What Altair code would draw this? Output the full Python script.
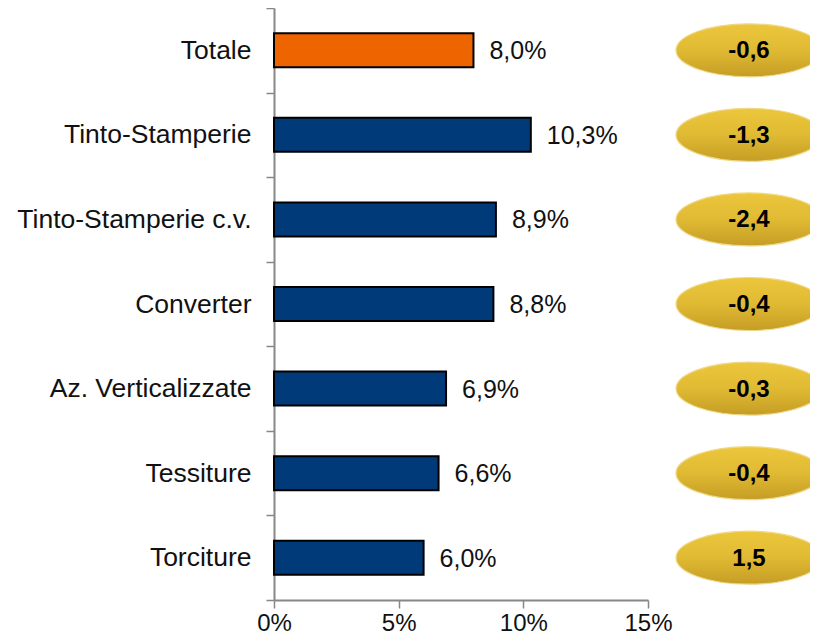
import altair as alt
import pandas as pd

# ---- data ----
categories = ["Totale", "Tinto-Stamperie", "Tinto-Stamperie c.v.", "Converter",
              "Az. Verticalizzate", "Tessiture", "Torciture"]
shares = [8.0, 10.3, 8.9, 8.8, 6.9, 6.6, 6.0]          # % values (bars)
changes = [-0.6, -1.3, -2.4, -0.4, -0.3, -0.4, 1.5]     # values in the gold ellipses
x_ticks = [0, 5, 10, 15]
highlight = "Totale"

df = pd.DataFrame({"cat": categories, "share": shares, "change": changes})
df["share_label"] = [f"{v:.1f}".replace(".", ",") + "%" for v in shares]
df["change_label"] = [f"{v:.1f}".replace(".", ",") for v in changes]

AXIS_GRAY = "#878787"
FONT = "Liberation Sans"

y = alt.Y(
    "cat:N", sort=categories, title=None,
    scale=alt.Scale(paddingInner=0, paddingOuter=0),
    axis=alt.Axis(labelFont=FONT, labelFontSize=26.5, labelColor="#111111",
                  labelPadding=15, labelLimit=400, tickBand="extent",
                  tickSize=8, tickColor=AXIS_GRAY, tickWidth=1.5,
                  domainColor=AXIS_GRAY, domainWidth=2, grid=False),
)
x = alt.X(
    "share:Q", title=None,
    scale=alt.Scale(domain=[0, 15], nice=False, zero=True),
    axis=alt.Axis(values=x_ticks, labelExpr="datum.value + '%'", grid=False,
                  labelFlush=False, labelFont=FONT, labelFontSize=24,
                  labelColor="#111111", labelPadding=3, tickSize=8,
                  tickColor=AXIS_GRAY, tickWidth=1.5,
                  domainColor=AXIS_GRAY, domainWidth=2),
)

base = alt.Chart(df)

bars = base.mark_bar(height=34, stroke="#000000", strokeWidth=2).encode(
    x=x, y=y,
    color=alt.condition(alt.datum.cat == highlight, alt.value("#EE6500"), alt.value("#003A79")),
)

values = base.mark_text(align="left", baseline="middle", dx=16, dy=1,
                        font=FONT, fontSize=25, color="#111111").encode(
    x=x, y=y, text="share_label:N")

k = 0.5523
r = 0.363
ellipse_path = (
    f"M -1 0 C -1 {-r*k:.4f} {-k:.4f} {-r} 0 {-r} "
    f"C {k:.4f} {-r} 1 {-r*k:.4f} 1 0 "
    f"C 1 {r*k:.4f} {k:.4f} {r} 0 {r} "
    f"C {-k:.4f} {r} -1 {r*k:.4f} -1 0 Z"
)
gold = alt.LinearGradient(
    gradient="linear",
    stops=[alt.GradientStop(color="#ECC73C", offset=0),
           alt.GradientStop(color="#E0BA33", offset=0.5),
           alt.GradientStop(color="#C59D25", offset=1)],
    x1=0, x2=0, y1=0, y2=1,
)
ellipses = base.mark_point(shape=ellipse_path, size=146 * 146, filled=True,
                           fill=gold, stroke="#EFD988", strokeWidth=1.2,
                           opacity=1).encode(x=alt.value(475), y=y)

ell_text = base.mark_text(align="center", baseline="middle", dy=1,
                          font=FONT, fontWeight="bold", fontSize=24,
                          color="#000000").encode(x=alt.value(475), y=y,
                                                  text="change_label:N")

chart = alt.layer(bars, values, ellipses, ell_text).properties(
    width=374, height=592,
    autosize=alt.AutoSizeParams(type="none"),
    padding={"left": 266, "top": 0, "right": 162, "bottom": 34},
).configure(background="white").configure_view(stroke="transparent", strokeWidth=0)

chart.save("out.html", embed_options={"renderer": "svg", "actions": False})
